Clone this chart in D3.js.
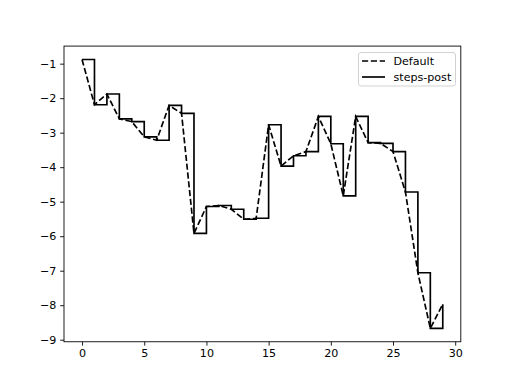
<!DOCTYPE html>
<html>
<head>
<meta charset="utf-8">
<script src="https://cdn.jsdelivr.net/npm/d3@7"></script>
<style>
  html, body { margin: 0; padding: 0; background: #fff; }
  svg { display: block; }
  text { font-family: "DejaVu Sans", sans-serif; }
</style>
</head>
<body>
<svg id="chart" width="512" height="384"></svg>
<script>
const xValues = d3.range(0, 30);
const yValues = [-0.88, -2.19, -1.88, -2.60, -2.68, -3.12, -3.22, -2.21, -2.44, -5.92,
                 -5.14, -5.11, -5.22, -5.51, -5.48, -2.77, -3.97, -3.67, -3.55, -2.53,
                 -3.32, -4.83, -2.53, -3.29, -3.31, -3.55, -4.72, -7.06, -8.67, -7.97];
const xTicks = [0, 5, 10, 15, 20, 25, 30];
const yTicks = [-1, -2, -3, -4, -5, -6, -7, -8, -9];
const seriesNames = ["Default", "steps-post"];

const W = 512, H = 384;
const mLeft = 64, mRight = 460.8, mTop = 46.08, mBottom = 341.76;
const svg = d3.select("#chart");

const xmin = d3.min(xValues), xmax = d3.max(xValues);
const ymin = d3.min(yValues), ymax = d3.max(yValues);
const xm = (xmax - xmin) * 0.05, ym = (ymax - ymin) * 0.05;
const x = d3.scaleLinear().domain([xmin - xm, xmax + xm]).range([mLeft, mRight]);
const y = d3.scaleLinear().domain([ymin - ym, ymax + ym]).range([mBottom, mTop]);

const data = xValues.map((d, i) => ({x: d, y: yValues[i]}));
const lw = 1.5 * 80 / 72;

const plot = svg.append("g");
const lineDefault = d3.line().x(d => x(d.x)).y(d => y(d.y));
const lineStep = d3.line().x(d => x(d.x)).y(d => y(d.y)).curve(d3.curveStepAfter);

plot.append("path").datum(data).attr("d", lineDefault)
  .attr("fill", "none").attr("stroke", "#000").attr("stroke-width", lw)
  .attr("stroke-dasharray", "6.17,2.67");
plot.append("path").datum(data).attr("d", lineStep)
  .attr("fill", "none").attr("stroke", "#000").attr("stroke-width", lw);

const tickLen = 3.5 * 80 / 72;
const axW = 0.8 * 80 / 72;

const xAxis = svg.append("g").attr("transform", `translate(0,${mBottom})`)
  .call(d3.axisBottom(x).tickValues(xTicks).tickSize(tickLen).tickPadding(3.5 * 80 / 72).tickFormat(d3.format("d")));
const yAxis = svg.append("g").attr("transform", `translate(${mLeft},0)`)
  .call(d3.axisLeft(y).tickValues(yTicks).tickSize(tickLen).tickPadding(3.5 * 80 / 72)
    .tickFormat(d => (d < 0 ? "\u2212" + Math.abs(d) : d)));
[xAxis, yAxis].forEach(a => {
  a.select(".domain").remove();
  a.selectAll(".tick line").attr("stroke", "#000").attr("stroke-width", axW);
  a.selectAll(".tick text").attr("fill", "#000").style("font-size", "11.1px")
    .style("font-family", "DejaVu Sans, sans-serif");
});

svg.append("rect").attr("x", mLeft).attr("y", mTop)
  .attr("width", mRight - mLeft).attr("height", mBottom - mTop)
  .attr("fill", "none").attr("stroke", "#000").attr("stroke-width", axW);

// legend
const lg = svg.append("g");
lg.append("rect").attr("x", 358.5).attr("y", 52.5).attr("width", 97).attr("height", 33.5)
  .attr("rx", 2.5).attr("fill", "#fff").attr("fill-opacity", 0.8)
  .attr("stroke", "#cccccc").attr("stroke-width", axW);
const rows = [61, 77];
seriesNames.forEach((name, i) => {
  lg.append("line").attr("x1", 362).attr("x2", 385).attr("y1", rows[i]).attr("y2", rows[i])
    .attr("stroke", "#000").attr("stroke-width", lw)
    .attr("stroke-dasharray", i === 0 ? "6.17,2.67" : null);
  lg.append("text").attr("x", 393.5).attr("y", rows[i]).attr("dy", "0.35em")
    .style("font-size", "11.1px").attr("fill", "#000").text(name);
});
</script>
</body>
</html>
